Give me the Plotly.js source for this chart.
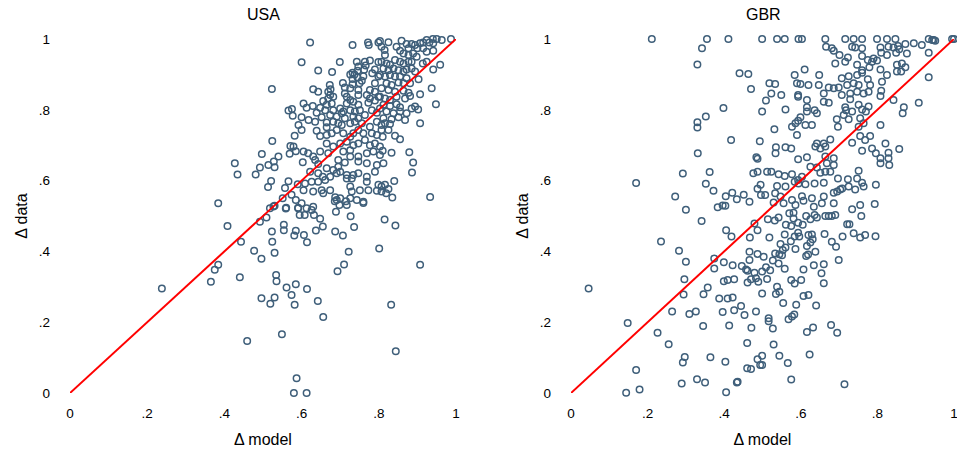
<!DOCTYPE html>
<html>
<head>
<meta charset="utf-8">
<script src="https://cdn.plot.ly/plotly-3.0.1.min.js"></script>
<style>html,body{margin:0;padding:0;background:#fff;}#chart{width:957px;height:453px;}</style>
</head>
<body>
<div id="chart"></div>
<script>
// ---- data ----
const panelTitles = ["USA", "GBR"];
const tickVals = [0, 0.2, 0.4, 0.6, 0.8, 1];
const tickText = ["0", ".2", ".4", ".6", ".8", "1"];
const lineX = [0, 1];
const lineY = [0, 1];

// USA: [Δ model, Δ data]
const usaPairs = [
[.523,.859],[.566,.798],[.575,.802],[.577,.783],[.592,.757],[.582,.727],[.524,.712],[.571,.698],[.579,.696],[.585,.683],
[.569,.676],[.497,.675],[.540,.668],[.427,.649],[.528,.654],[.514,.644],[.530,.638],[.492,.637],[.434,.617],[.481,.617],
[.521,.599],[.513,.582],[.566,.598],[.557,.579],[.590,.590],[.574,.560],[.384,.536],[.551,.550],[.585,.545],[.560,.523],
[.591,.522],[.527,.527],
[.408,.472],[.443,.427],[.477,.402],[.496,.379],[.523,.456],[.524,.427],[.530,.396],[.492,.484],[.509,.496],[.518,.522],
[.530,.529],[.559,.521],[.554,.475],[.554,.460],[.585,.458],[.581,.445],[.606,.446],[.614,.426],[.591,.523],[.595,.503],
[.608,.503],[.238,.295],[.365,.314],[.375,.348],[.384,.362],[.440,.327],[.534,.333],[.535,.316],[.561,.298],[.585,.307],
[.614,.294],[.574,.277],[.530,.270],[.496,.268],[.519,.252],[.582,.249],[.549,.166],[.459,.147],[.587,.042],[.580,0],[.613,0],
[.642,.260],[.656,.215],[.832,.249],[.844,.118],[.907,.362],[.801,.408],[.722,.399],[.710,.363],[.693,.344],[.637,.459],
[.655,.470],[.648,.492],[.632,.503],[.687,.456],[.707,.445],[.736,.469],[.727,.499],[.689,.512],[.698,.531],[.717,.531],
[.715,.542],[.686,.542],[.760,.537],[.815,.490],[.843,.473],
[.622,.990],[.732,.983],[.772,.990],[.774,.983],[.799,.990],[.600,.934],[.699,.935],[.643,.911],[.679,.907],[.743,.936],
[.764,.936],[.777,.939],[.747,.922],[.766,.925],[.799,.935],[.745,.910],[.762,.913],[.790,.914],[.732,.905],[.726,.900],
[.737,.900],[.760,.895],[.783,.903],[.799,.894],[.732,.887],[.745,.891],[.756,.882],[.707,.876],[.732,.872],[.750,.875],
[.790,.875],[.673,.870],[.675,.858],[.669,.851],[.630,.858],[.643,.851],[.712,.863],[.726,.861],[.747,.856],[.777,.856],
[.790,.851],[.674,.842],[.669,.832],[.682,.837],[.712,.846],[.717,.837],[.726,.828],[.747,.842],[.769,.842],[.777,.832],
[.799,.837],[.656,.825],[.665,.814],[.678,.818],[.717,.818],[.734,.823],[.747,.814],[.773,.820],[.790,.826],[.605,.818],
[.613,.806],[.629,.811],[.648,.806],[.661,.799],[.682,.799],[.700,.804],[.708,.795],[.726,.799],[.738,.795],[.751,.799],
[.782,.799],[.795,.792],[.639,.792],[.674,.785],[.691,.781],[.704,.790],[.712,.776],[.734,.781],[.747,.776],[.764,.785],
[.600,.779],[.618,.771],[.635,.766],[.652,.779],[.665,.764],[.682,.766],[.695,.762],[.726,.762],[.738,.766],[.756,.762],[.795,.766],
[.987,1.0],[.940,1.0],[.950,1.0],[.963,.997],[.924,.997],[.931,.990],[.941,.988],[.907,.988],[.915,.990],[.885,.986],
[.894,.983],[.900,.974],[.859,.995],[.872,.986],[.877,.974],[.825,.991],[.803,.994],[.807,.978],[.846,.978],[.855,.967],
[.815,.969],[.816,.955],[.915,.974],[.924,.964],[.941,.967],[.864,.959],[.877,.955],[.889,.959],[.898,.950],[.885,.936],
[.842,.941],[.855,.936],[.864,.931],[.877,.936],[.914,.931],[.924,.936],[.959,.927],[.941,.914],[.807,.936],[.820,.931],
[.829,.927],[.812,.917],[.825,.912],[.838,.917],[.851,.912],[.864,.908],[.872,.914],[.885,.917],[.894,.908],[.803,.898],
[.816,.894],[.829,.898],[.842,.894],[.855,.894],[.872,.889],[.903,.886],[.820,.875],[.833,.870],[.851,.877],[.864,.875],
[.881,.875],[.807,.861],[.825,.856],[.842,.851],[.864,.854],[.877,.848],[.937,.861],[.907,.844],[.803,.837],[.816,.832],
[.829,.828],[.846,.837],[.868,.832],[.881,.839],[.948,.816],[.812,.814],[.829,.811],[.846,.816],[.855,.807],[.885,.804],
[.902,.801],[.894,.809],[.820,.795],[.838,.790],[.855,.795],[.872,.790],[.803,.804],[.812,.776],[.833,.773],[.851,.779],
[.868,.771],[.907,.762],
[.600,.743],[.665,.751],[.691,.743],[.704,.757],[.639,.741],[.648,.726],[.665,.729],[.678,.734],[.708,.734],[.726,.724],
[.734,.734],[.747,.743],[.760,.734],[.777,.752],[.807,.757],[.782,.734],[.795,.729],[.810,.724],[.665,.705],[.682,.696],
[.700,.705],[.717,.710],[.734,.700],[.747,.705],[.764,.715],[.777,.700],[.790,.705],[.803,.696],[.605,.682],[.617,.677],
[.630,.668],[.648,.682],[.669,.677],[.708,.682],[.726,.686],[.726,.668],[.747,.668],[.769,.677],[.786,.682],[.803,.672],
[.603,.652],[.635,.658],[.643,.647],[.695,.658],[.712,.651],[.695,.639],[.747,.654],[.769,.649],[.795,.644],[.812,.649],
[.665,.635],[.682,.630],[.700,.625],[.622,.625],[.643,.621],[.655,.611],[.674,.611],[.691,.621],[.717,.616],[.734,.616],
[.747,.621],[.769,.611],[.790,.625],[.609,.592],[.626,.597],[.643,.597],[.661,.602],[.717,.606],[.730,.606],[.769,.597],
[.799,.588],[.807,.583],[.605,.573],[.630,.569],[.652,.573],[.656,.564],[.674,.573],[.726,.583],[.730,.569],[.751,.573],
[.773,.573],[.795,.571],[.807,.569],[.687,.553],[.691,.545],[.700,.550],[.726,.550],[.743,.545],[.760,.540],[.600,.536],
[.613,.522],[.630,.526],[.626,.517],
[.816,.762],[.829,.760],[.807,.743],[.825,.743],[.842,.727],[.855,.717],[.810,.684],[.833,.679],[.879,.680],[.889,.651],
[.886,.623],[.840,.599],[.816,.588],[.825,.576],[.819,.564],[.835,.552],[.933,.554]
];

// GBR: [Δ model, Δ data]
const gbrPairs = [
[.211,1.0],[.355,1.0],[.411,1.0],[.342,.974],[.330,.928],[.440,.903],[.463,.901],[.470,.859],[.398,.805],[.352,.781],
[.330,.765],[.330,.750],[.418,.715],[.493,.711],[.331,.677],[.484,.666],[.487,.662],[.292,.620],[.362,.624],[.476,.621],
[.487,.625],[.170,.593],[.352,.591],[.372,.571],[.495,.588],[.487,.577],[.496,.559],[.272,.555],[.404,.556],[.421,.566],
[.451,.560],[.433,.547],[.466,.540],[.300,.518],[.383,.525],[.396,.530],[.403,.529],
[.499,1.0],[.538,1.0],[.558,1.0],[.594,1.0],[.603,1.0],[.664,1.0],[.716,1.0],[.738,1.0],[.760,1.0],[.799,1.0],
[.825,1.0],[.847,1.0],[.934,1.0],[.947,.997],[.995,1.0],[1.0,1.0],
[.666,.978],[.681,.974],[.686,.967],[.734,.978],[.742,.976],[.760,.974],[.808,.976],[.829,.978],[.842,.976],[.854,.980],
[.873,.986],[.895,.988],[.916,.983],[.943,.997],[.951,.995],
[.701,.955],[.723,.948],[.760,.952],[.790,.945],[.810,.961],[.825,.955],[.849,.961],[.857,.971],[.877,.959],[.934,.961],
[.690,.931],[.716,.936],[.747,.927],[.775,.941],[.786,.936],[.799,.939],[.779,.920],
[.610,.914],[.760,.912],[.808,.914],[.851,.927],[.864,.931],[.851,.908],[.862,.908],[.873,.920],
[.584,.898],[.648,.898],[.707,.889],[.725,.895],[.747,.898],[.760,.905],[.825,.898],[.812,.879],[.934,.892],
[.518,.875],[.533,.873],[.523,.846],[.549,.842],[.590,.875],[.599,.873],[.620,.870],[.647,.870],
[.673,.863],[.686,.861],[.699,.863],[.721,.870],[.738,.875],[.751,.870],[.775,.886],[.781,.870],[.810,.854],
[.660,.846],[.707,.842],[.729,.846],[.747,.851],[.764,.846],[.777,.851],[.808,.839],[.842,.828],
[.509,.826],[.593,.842],[.593,.837],[.616,.828],[.660,.823],[.673,.820],[.729,.830],[.751,.814],[.777,.809],
[.908,.820],[.869,.807],[.866,.790],
[.560,.801],[.616,.807],[.616,.795],[.636,.799],[.642,.790],[.716,.807],[.718,.799],[.734,.795],[.760,.801],[.770,.795],
[.499,.795],[.599,.779],[.593,.769],[.612,.757],[.629,.757],[.586,.762],[.577,.752],
[.694,.773],[.697,.752],[.712,.785],[.725,.773],[.755,.776],[.751,.752],[.764,.762],[.808,.757],[.531,.745],[.590,.729],
[.677,.716],[.660,.705],[.642,.705],[.638,.696],[.651,.691],[.664,.696],
[.734,.707],[.755,.726],[.768,.715],[.760,.684],[.781,.726],[.786,.691],[.796,.677],[.808,.663],[.821,.705],[.829,.679],
[.829,.663],[.857,.689],[.808,.649],[.831,.644],
[.535,.694],[.560,.694],[.575,.691],[.534,.677],[.593,.660],[.616,.666],[.664,.668],[.686,.663],[.686,.644],[.668,.649],
[.512,.625],[.523,.625],[.542,.618],[.558,.613],[.577,.618],[.584,.597],[.593,.602],[.603,.611],[.625,.639],[.642,.637],
[.651,.622],[.664,.625],[.677,.625],[.697,.606],[.723,.604],[.751,.628],[.747,.606],
[.538,.585],[.560,.583],[.594,.592],[.612,.590],[.636,.592],[.660,.594],[.686,.566],[.708,.578],[.760,.594],[.764,.583],[.796,.588],
[.507,.559],[.533,.564],[.547,.555],[.577,.545],[.603,.556],[.629,.550],[.660,.555],[.695,.569],[.703,.575],[.725,.583],[.742,.575],
[.529,.538],[.555,.536],[.586,.531],[.607,.543],[.634,.526],[.655,.536],[.686,.536],[.734,.519],[.755,.531],[.793,.534],
[.341,.486],[.405,.460],[.419,.442],[.467,.439],[.479,.479],[.487,.460],[.235,.428],[.282,.402],[.300,.371],[.374,.380],
[.374,.352],[.399,.369],[.422,.361],[.446,.359],[.466,.399],[.487,.393],[.466,.376],[.457,.349],[.461,.345],[.479,.340],
[.296,.321],[.399,.316],[.409,.319],[.426,.321],[.461,.312],[.470,.321],[.483,.324],[.489,.314],[.046,.295],[.294,.278],
[.357,.298],[.346,.279],[.387,.267],[.409,.267],[.422,.270],[.444,.246],[.264,.230],[.309,.223],[.326,.230],[.396,.229],
[.426,.234],[.453,.220],[.483,.230],[.148,.198],[.226,.170],[.345,.189],[.413,.191],[.471,.184],[.255,.138],[.460,.141],
[.297,.102],[.292,.086],[.364,.101],[.403,.088],[.487,.095],[.494,.079],[.170,.065],[.460,.070],[.470,.068],[.144,.001],
[.179,.010],[.289,.027],[.329,.039],[.350,.030],[.433,.030],[.435,.032],[.405,.002],
[.514,.491],[.532,.487],[.542,.496],[.570,.508],[.581,.509],[.581,.493],[.561,.475],[.575,.472],[.593,.481],[.605,.475],
[.614,.500],[.625,.491],[.636,.503],[.642,.496],[.664,.500],[.673,.500],[.681,.500],[.690,.503],[.721,.477],[.727,.477],[.758,.500],
[.518,.439],[.558,.448],[.593,.453],[.584,.442],[.620,.446],[.629,.448],[.631,.434],[.625,.425],[.616,.415],[.596,.442],[.574,.429],
[.662,.449],[.681,.427],[.692,.413],[.709,.442],[.738,.451],[.755,.439],[.768,.446],[.795,.443],
[.547,.421],[.560,.411],[.553,.404],[.544,.392],[.551,.389],[.533,.394],[.586,.407],[.614,.387],[.619,.391],[.638,.399],
[.503,.385],[.527,.374],[.542,.366],[.509,.355],[.499,.343],[.520,.347],[.558,.351],[.607,.349],[.634,.361],[.660,.364],
[.699,.376],[.654,.338],[.660,.310],[.512,.322],[.575,.319],[.584,.309],[.601,.319],[.538,.300],[.544,.286],[.535,.280],
[.499,.281],[.607,.274],[.620,.277],[.640,.247],[.588,.249],[.554,.254],[.516,.211],[.516,.203],[.568,.208],[.577,.216],
[.583,.222],[.527,.182],[.616,.172],[.632,.185],[.679,.192],[.695,.170],[.529,.137],[.499,.105],[.544,.105],[.499,.079],
[.566,.085],[.623,.109],[.575,.038],[.714,.025]
];

// ---- chart ----
const W = 957, H = 453;
const markerColor = "#3f5f7a";
const FONT = "Liberation Sans, Arial, Helvetica, sans-serif";

function scatterTrace(pairs, xa, ya) {
  return {
    type: "scatter", mode: "markers",
    x: pairs.map(p => p[0]), y: pairs.map(p => p[1]),
    xaxis: xa, yaxis: ya, cliponaxis: false, hoverinfo: "skip",
    marker: {symbol: "circle-open", size: 6.5, color: markerColor, line: {width: 1.5, color: markerColor}}
  };
}
function lineTrace(xa, ya) {
  return {type: "scatter", mode: "lines", x: lineX, y: lineY, xaxis: xa, yaxis: ya,
    cliponaxis: false, hoverinfo: "skip", line: {color: "#ff0000", width: 2}};
}

const data = [
  scatterTrace(usaPairs, "x", "y"), lineTrace("x", "y"),
  scatterTrace(gbrPairs, "x2", "y2"), lineTrace("x2", "y2")
];

const yDom = [1 - 393 / H, 1 - 39 / H];
function xAxis(dom) {
  return {domain: dom, range: [0, 1], tickvals: tickVals, ticktext: tickText, showgrid: false,
    zeroline: false, showline: false, ticks: "", ticklabelstandoff: 10, ticklabeloverflow: "allow",
    tickfont: {family: FONT, size: 13.5, color: "#000"},
    title: {text: "Δ model", font: {family: FONT, size: 16, color: "#000"}, standoff: 14}};
}
function yAxis(anchor) {
  return {domain: yDom, range: [0, 1], tickvals: tickVals, ticktext: tickText, showgrid: false,
    zeroline: false, showline: false, ticks: "", ticklabelstandoff: 19, anchor: anchor,
    tickfont: {family: FONT, size: 13.5, color: "#000"},
    title: {text: "Δ data", font: {family: FONT, size: 16, color: "#000"}, standoff: 7}};
}

const layout = {
  width: W, height: H, margin: {l: 0, r: 0, t: 0, b: 0},
  paper_bgcolor: "#fff", plot_bgcolor: "#fff", showlegend: false,
  font: {family: FONT, color: "#000"},
  xaxis: Object.assign(xAxis([70 / W, 456 / W]), {anchor: "y"}),
  yaxis: yAxis("x"),
  xaxis2: Object.assign(xAxis([571 / W, 954 / W]), {anchor: "y2"}),
  yaxis2: yAxis("x2"),
  annotations: [
    {text: panelTitles[0], xref: "paper", yref: "paper", x: 263 / W, y: 1 - 15 / H, showarrow: false,
     xanchor: "center", yanchor: "middle", font: {family: FONT, size: 16, color: "#000"}},
    {text: panelTitles[1], xref: "paper", yref: "paper", x: 763 / W, y: 1 - 15 / H, showarrow: false,
     xanchor: "center", yanchor: "middle", font: {family: FONT, size: 16, color: "#000"}}
  ]
};

Plotly.newPlot("chart", data, layout, {staticPlot: true, displayModeBar: false});
</script>
</body>
</html>
